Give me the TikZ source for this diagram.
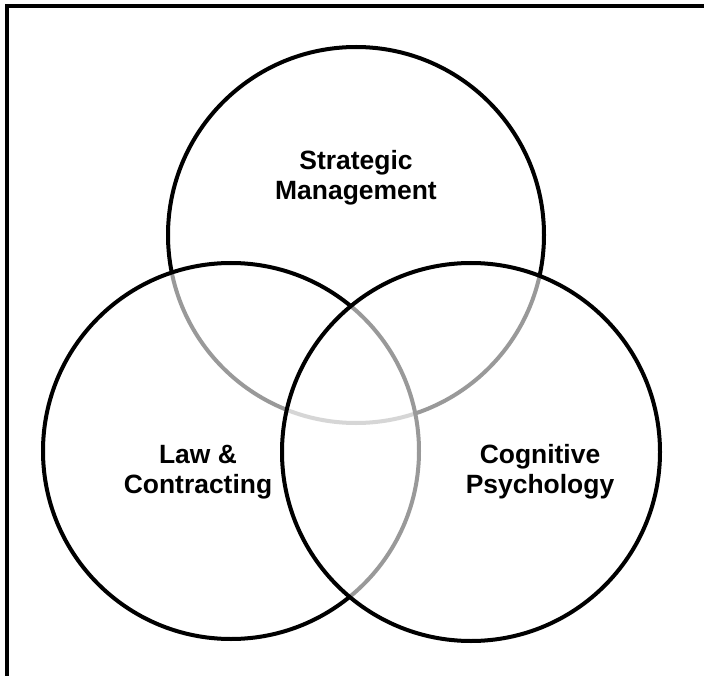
\documentclass[tikz,border=0pt]{standalone}
\usepackage{fontspec}
\setmainfont{Liberation Sans}
\usetikzlibrary{positioning}

\begin{document}
\begin{tikzpicture}[x=0.025cm, y=-0.025cm, every text node part/.style={align=center}, disc/.style={draw, line width=0.1cm, fill=white, fill opacity=0.6, draw opacity=1}, field/.style={font=\bfseries\fontsize{18.8}{21.3}\selectfont}]
    \useasboundingbox (0,0) rectangle (704,676);
    \coordinate (tl) at (7,6);
    \coordinate (tr) at (704,6);
    \coordinate (bl) at (7,676);
    \draw [line width=0.1cm] (tr) -- (tl) -- (bl);

    \draw [disc] (356,235) circle (188);
    \draw [disc] (231,451) circle (188);
    \draw [disc] (471,452) circle (189);

    \node [field] (strategic) at (356,178) {Strategic\\Management};
    \node [field] (law) at (198,472) {Law \&\\Contracting};
    \node [field] (cognitive) at (540,472) {Cognitive\\Psychology};
\end{tikzpicture}
\end{document}
